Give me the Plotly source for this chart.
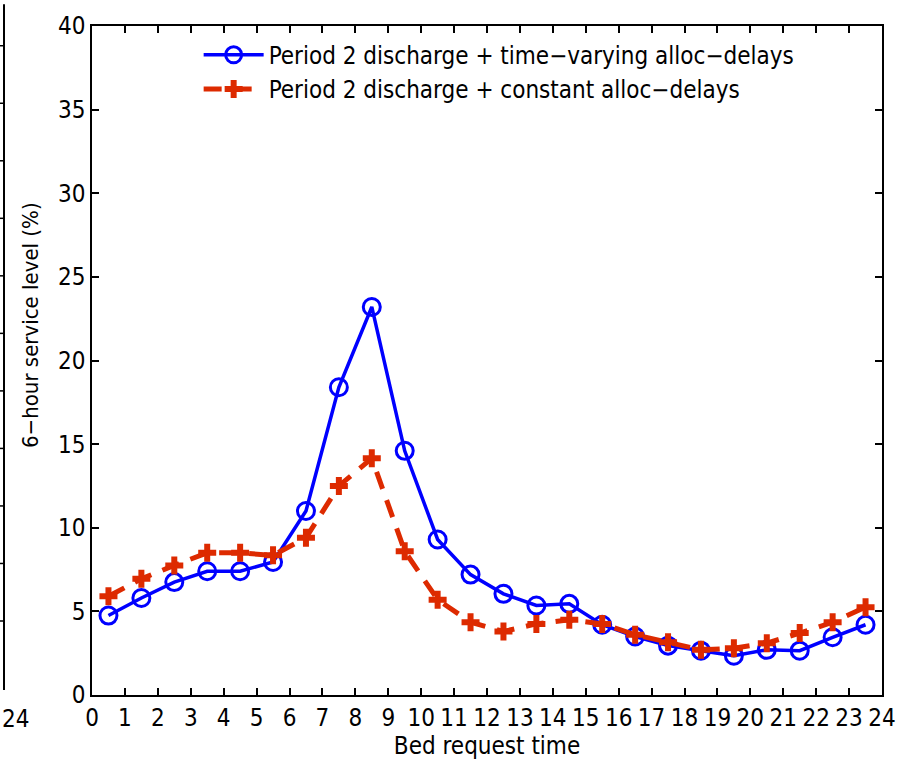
import plotly.graph_objects as go

hours = [0.5, 1.5, 2.5, 3.5, 4.5, 5.5, 6.5, 7.5, 8.5, 9.5, 10.5, 11.5,
         12.5, 13.5, 14.5, 15.5, 16.5, 17.5, 18.5, 19.5, 20.5, 21.5, 22.5, 23.5]
time_varying = [4.75, 5.8, 6.75, 7.4, 7.4, 7.95, 11.0, 18.4, 23.2, 14.6, 9.3, 7.2,
                6.05, 5.35, 5.45, 4.2, 3.5, 2.95, 2.65, 2.35, 2.7, 2.65, 3.45, 4.2]
constant = [5.9, 6.95, 7.75, 8.5, 8.5, 8.35, 9.4, 12.5, 14.15, 8.6, 5.7, 4.35,
            3.8, 4.25, 4.5, 4.25, 3.6, 3.15, 2.7, 2.8, 3.1, 3.7, 4.35, 5.25]
x_ticks = list(range(0, 25))
y_ticks = [0, 5, 10, 15, 20, 25, 30, 35, 40]

FONT = "DejaVu Sans Condensed, Liberation Sans Narrow, Arial Narrow, sans-serif"
BLUE = "#0000ff"
RED = "#dd2a00"

W, H = 913, 761
ML, MR, MT, MB = 92, 31, 17, 66
PW, PH = W - ML - MR, H - MT - MB


def px_x(p):
    return (p - ML) / PW


def px_y(p):
    return (H - MB - p) / PH


fig = go.Figure()
fig.add_trace(go.Scatter(
    x=hours, y=time_varying, mode="lines+markers",
    name="Period 2 discharge + time\u2212varying alloc\u2212delays",
    line=dict(color=BLUE, width=3.5),
    marker=dict(symbol="circle-open", size=17, color=BLUE, line=dict(width=3, color=BLUE)),
))
fig.add_trace(go.Scatter(
    x=hours, y=constant, mode="lines+markers",
    name="Period 2 discharge + constant alloc\u2212delays",
    line=dict(color=RED, width=5, dash="18px,12px"),
    marker=dict(symbol="cross", size=15, color=RED, line=dict(width=0)),
))

axis_common = dict(
    showline=True, linecolor="black", linewidth=1.5, mirror="allticks",
    ticks="inside", ticklen=7, tickcolor="black", tickwidth=1.5,
    showgrid=False, zeroline=False,
    tickfont=dict(family=FONT, size=24, color="black"),
)

fig.update_xaxes(range=[0, 24], tickmode="array", tickvals=x_ticks,
                 ticktext=[str(v) for v in x_ticks],
                 title=dict(text="Bed request time", font=dict(family=FONT, size=24, color="black"), standoff=0),
                 **axis_common)
fig.update_yaxes(range=[0, 40], tickmode="array", tickvals=y_ticks,
                 ticktext=[str(v) for v in y_ticks], **axis_common)

# y-axis title placed as in the reference (slightly above centre)
fig.add_annotation(text="6\u2212hour service level (%)", xref="paper", yref="paper",
                   x=px_x(31), y=px_y(320), textangle=-90, showarrow=False,
                   xanchor="center", yanchor="middle",
                   font=dict(family=FONT, size=22, color="black"))

# remnant of neighbouring panel at left edge
fig.add_shape(type="line", xref="paper", yref="paper", x0=px_x(4), x1=px_x(4),
              y0=px_y(690), y1=px_y(-5), line=dict(color="black", width=2))
for k in range(11):
    ty = px_y(620 - 58.3 * k)
    fig.add_shape(type="line", xref="paper", yref="paper", x0=px_x(-1), x1=px_x(4),
                  y0=ty, y1=ty, line=dict(color="black", width=1.5))
fig.add_annotation(text="24", xref="paper", yref="paper", x=px_x(0), y=px_y(703),
                   xanchor="left", yanchor="top", showarrow=False,
                   font=dict(family=FONT, size=24, color="black"))

fig.update_layout(
    width=W, height=H,
    margin=dict(l=ML, r=MR, t=MT, b=MB),
    paper_bgcolor="white", plot_bgcolor="white",
    font=dict(family=FONT, color="black"),
    legend=dict(x=0.135, y=0.99, xanchor="left", yanchor="top",
                bgcolor="rgba(0,0,0,0)", borderwidth=0,
                font=dict(family=FONT, size=24, color="black"),
                itemwidth=60, tracegroupgap=6),
)

fig.write_html("out.html")
